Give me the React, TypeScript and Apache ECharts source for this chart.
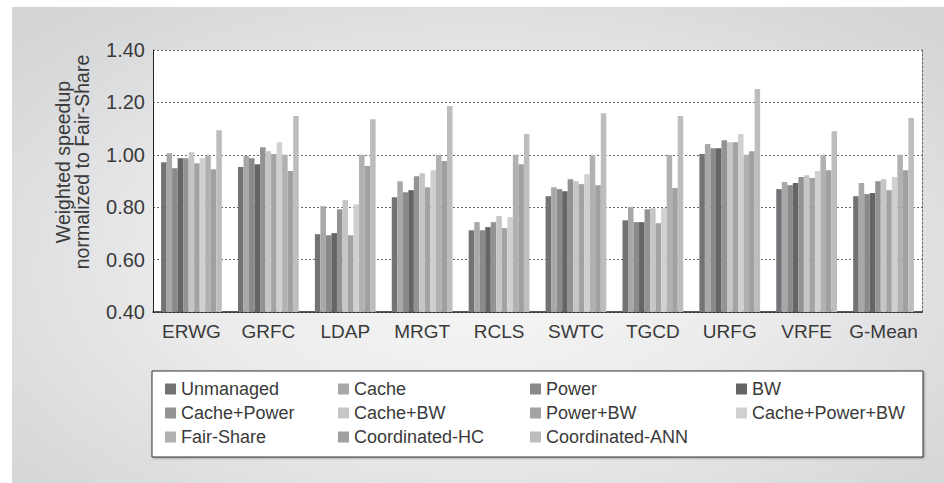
import React, { useEffect, useRef } from "react";
import * as echarts from "echarts";

const categories = ["ERWG", "GRFC", "LDAP", "MRGT", "RCLS", "SWTC", "TGCD", "URFG", "VRFE", "G-Mean"];

const unmanaged = [0.972, 0.953, 0.697, 0.838, 0.712, 0.842, 0.750, 1.003, 0.869, 0.842];
const cache = [1.006, 0.995, 0.804, 0.899, 0.743, 0.876, 0.800, 1.041, 0.896, 0.892];
const power = [0.949, 0.987, 0.693, 0.857, 0.712, 0.869, 0.743, 1.025, 0.884, 0.850];
const bw = [0.987, 0.964, 0.701, 0.865, 0.724, 0.861, 0.743, 1.025, 0.892, 0.854];
const cachePower = [0.987, 1.029, 0.792, 0.918, 0.743, 0.907, 0.792, 1.056, 0.915, 0.899];
const cacheBw = [1.010, 1.014, 0.827, 0.930, 0.766, 0.899, 0.796, 1.048, 0.922, 0.907];
const powerBw = [0.968, 1.003, 0.693, 0.876, 0.720, 0.888, 0.739, 1.048, 0.911, 0.865];
const cachePowerBw = [0.987, 1.048, 0.811, 0.941, 0.762, 0.926, 0.796, 1.079, 0.938, 0.915];
const fairShare = [1.0, 1.0, 1.0, 1.0, 1.0, 1.0, 1.0, 1.0, 1.0, 1.0];
const coordHC = [0.945, 0.938, 0.957, 0.976, 0.964, 0.884, 0.873, 1.014, 0.941, 0.941];
const coordANN = [1.094, 1.148, 1.136, 1.186, 1.079, 1.159, 1.148, 1.251, 1.090, 1.140];

const seriesNames = [
  "Unmanaged", "Cache", "Power", "BW", "Cache+Power", "Cache+BW",
  "Power+BW", "Cache+Power+BW", "Fair-Share", "Coordinated-HC", "Coordinated-ANN",
];
const seriesData = [unmanaged, cache, power, bw, cachePower, cacheBw, powerBw, cachePowerBw, fairShare, coordHC, coordANN];
const seriesColors = [
  "#737376", "#a8a8aa", "#8a8a8c", "#656567", "#939395", "#c6c6c8",
  "#a3a3a5", "#d0d0d2", "#b1b1b3", "#a0a0a2", "#bdbdbf",
];

const legendColumns = [
  ["Unmanaged", "Cache+Power", "Fair-Share"],
  ["Cache", "Cache+BW", "Coordinated-HC"],
  ["Power", "Power+BW", "Coordinated-ANN"],
  ["BW", "Cache+Power+BW"],
];
const legendColumnX = [165, 338, 530, 736];

const yTicks = { min: 0.4, max: 1.4, interval: 0.2 };

const FONT = "'Liberation Sans', Arial, sans-serif";
const TEXT = "#3a3a3a";

export default function App() {
  const ref = useRef<HTMLDivElement>(null);

  useEffect(() => {
    if (!ref.current) return;
    const chart = echarts.init(ref.current, undefined, { renderer: "svg" });
    const option: any = {
      animation: false,
      backgroundColor: "transparent",
      textStyle: { fontFamily: FONT },
      grid: {
        left: 153,
        right: 22,
        top: 50,
        bottom: 171,
        show: true,
        backgroundColor: "#ffffff",
        borderWidth: 0,
      },
      xAxis: {
        type: "category",
        data: categories,
        axisLine: { show: true, lineStyle: { color: "#222", width: 1.5 } },
        axisTick: { show: false },
        axisLabel: { interval: 0, hideOverlap: false, fontSize: 19, color: TEXT, margin: 10, fontFamily: FONT },
        splitLine: { show: false },
      },
      yAxis: [
        {
          type: "value",
          min: yTicks.min,
          max: yTicks.max,
          interval: yTicks.interval,
          axisLine: { show: true, lineStyle: { color: "#222", width: 1 } },
          axisTick: { show: false },
          axisLabel: {
            fontSize: 20,
            color: TEXT,
            margin: 8,
            fontFamily: FONT,
            formatter: (v: number) => v.toFixed(2),
          },
          splitLine: { show: true, lineStyle: { color: "#666", width: 1, type: [2, 2] } },
        },
        {
          type: "value",
          position: "right",
          min: yTicks.min,
          max: yTicks.max,
          interval: yTicks.interval,
          axisLine: { show: true, lineStyle: { color: "#666", width: 1, type: [2, 2] } },
          axisTick: { show: false },
          axisLabel: { show: false },
          splitLine: { show: false },
        },
      ],
      legend: legendColumns.map((col, i) => ({
        orient: "vertical",
        left: legendColumnX[i],
        top: 380,
        data: col,
        itemWidth: 11,
        itemHeight: 11,
        itemGap: 6,
        icon: "rect",
        padding: 0,
        selectedMode: false,
        textStyle: { fontSize: 18, lineHeight: 18, color: TEXT, fontFamily: FONT },
      })),
      graphic: [
        {
          type: "rect",
          shape: { x: 152, y: 371, width: 771, height: 86 },
          style: {
            fill: "#ffffff",
            stroke: "#333",
            lineWidth: 1,
            shadowBlur: 2,
            shadowOffsetX: 1,
            shadowOffsetY: 1,
            shadowColor: "rgba(0,0,0,0.3)",
          },
          z: -1,
        },
        {
          type: "text",
          x: 72,
          y: 162,
          rotation: Math.PI / 2,
          style: {
            text: "Weighted speedup\nnormalized to Fair-Share",
            fontSize: 19.5,
            lineHeight: 19,
            fontFamily: FONT,
            fill: TEXT,
            align: "center",
            verticalAlign: "middle",
          },
        },
      ],
      series: seriesNames.map((name, i) => ({
        name,
        type: "bar",
        data: seriesData[i],
        barGap: "0%",
        barCategoryGap: "21%",
        itemStyle: { color: seriesColors[i] },
      })),
    };
    chart.setOption(option);
    return () => chart.dispose();
  }, []);

  return (
    <div style={{ position: "fixed", left: 0, top: 0, width: 944, height: 483, background: "#ffffff", overflow: "hidden" }}>
      <div
        style={{
          position: "absolute",
          left: 12,
          top: 7,
          width: 932,
          height: 476,
          background: "radial-gradient(ellipse 70% 75% at 50% 55%, #f7f7f7 0%, #ebebec 45%, #d8d9db 85%, #d3d4d6 100%)",
        }}
      />
      <div ref={ref} style={{ position: "absolute", left: 0, top: 0, width: 944, height: 483 }} />
    </div>
  );
}
